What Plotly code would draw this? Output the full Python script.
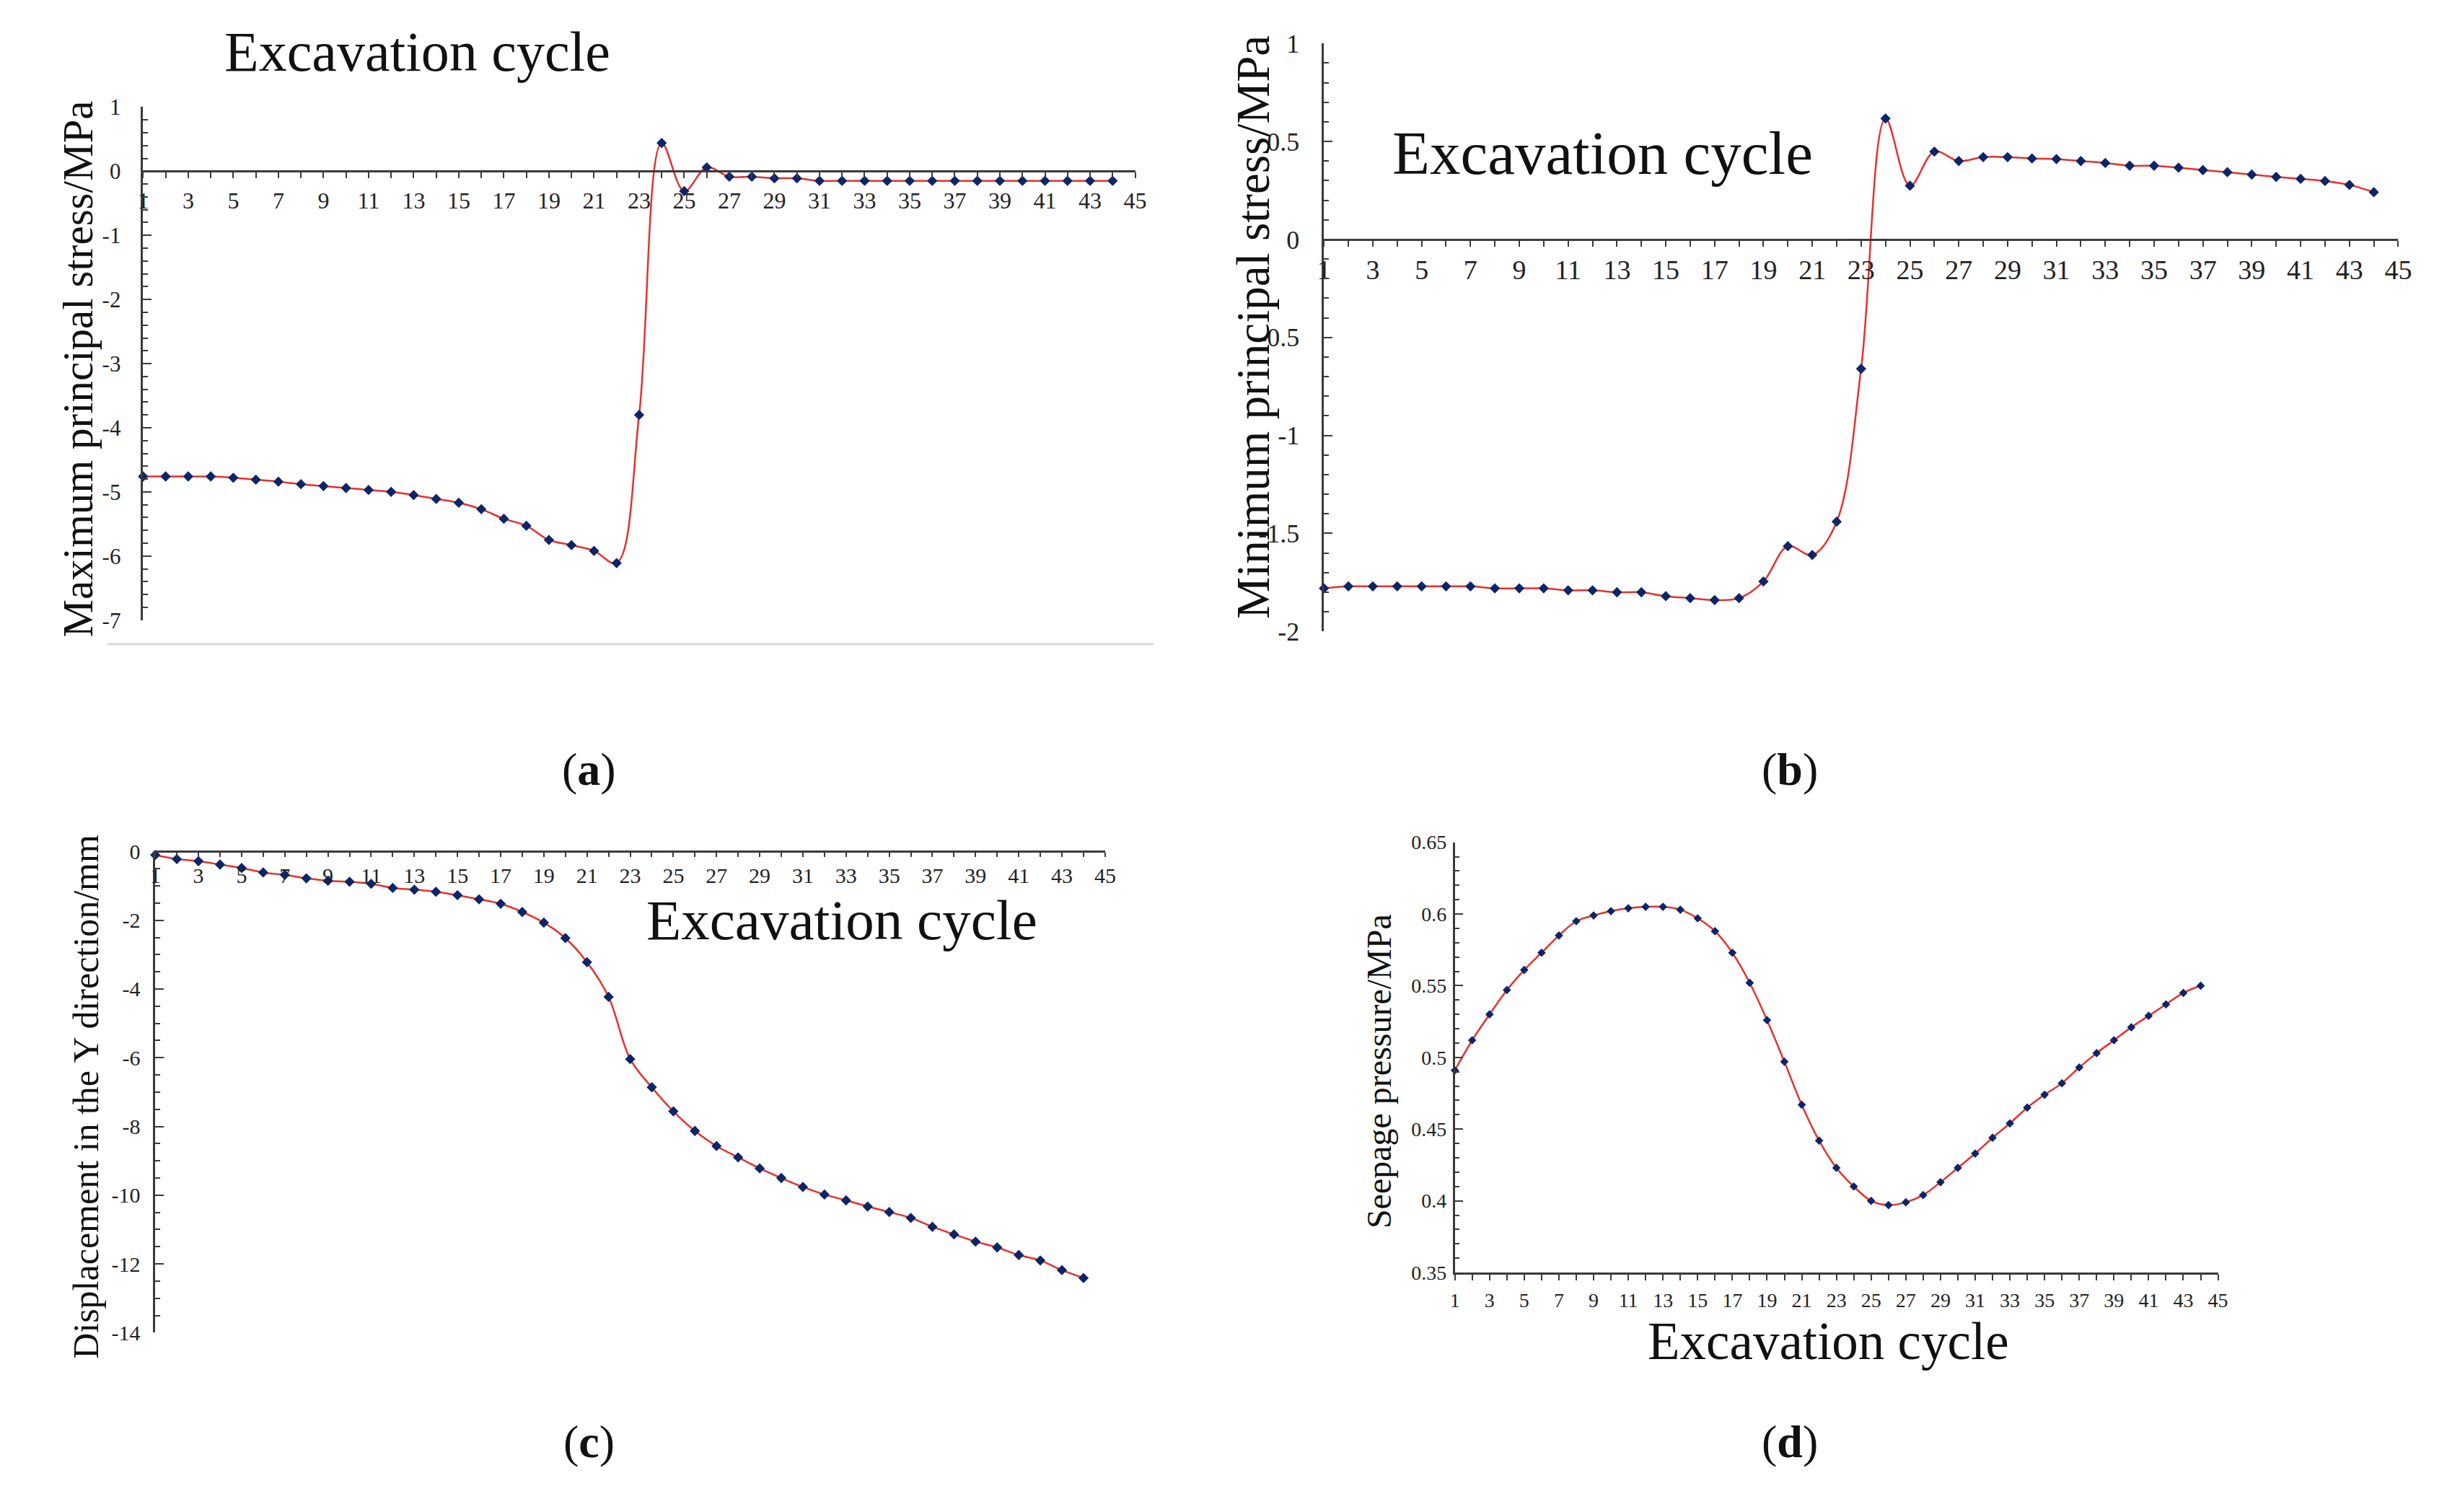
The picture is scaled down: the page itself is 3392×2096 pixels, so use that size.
import plotly.graph_objects as go

W, H = 3392, 2096

# ---------------- data ----------------
cycles = list(range(1, 45))

max_principal_stress = [
    -4.76, -4.76, -4.76, -4.76, -4.78, -4.81, -4.84, -4.88, -4.91, -4.94,
    -4.97, -5.00, -5.05, -5.11, -5.17, -5.27, -5.42, -5.53, -5.75, -5.83,
    -5.92, -6.11, -3.80, 0.44, -0.31, 0.06, -0.085, -0.085, -0.11, -0.11,
    -0.15, -0.15, -0.15, -0.15, -0.15, -0.15, -0.15, -0.15, -0.15, -0.15,
    -0.15, -0.15, -0.15, -0.15]

min_principal_stress = [
    -1.78, -1.77, -1.77, -1.77, -1.77, -1.77, -1.77, -1.78, -1.78, -1.78,
    -1.79, -1.79, -1.80, -1.80, -1.82, -1.83, -1.84, -1.83, -1.745, -1.565,
    -1.61, -1.44, -0.66, 0.617, 0.274, 0.448, 0.40, 0.42, 0.42, 0.413,
    0.41, 0.40, 0.39, 0.376, 0.376, 0.366, 0.354, 0.343, 0.331, 0.319,
    0.309, 0.298, 0.278, 0.241]

displacement_y = [
    -0.10, -0.22, -0.28, -0.38, -0.48, -0.61, -0.68, -0.78, -0.85, -0.88,
    -0.94, -1.06, -1.11, -1.17, -1.27, -1.39, -1.52, -1.76, -2.07, -2.52,
    -3.22, -4.23, -6.04, -6.86, -7.56, -8.13, -8.57, -8.90, -9.22, -9.50,
    -9.76, -9.98, -10.15, -10.33, -10.49, -10.66, -10.92, -11.14, -11.35, -11.52,
    -11.74, -11.90, -12.18, -12.41]

seepage_pressure = [
    0.491, 0.512, 0.530, 0.547, 0.561, 0.573, 0.585, 0.595, 0.599, 0.602,
    0.604, 0.605, 0.605, 0.603, 0.597, 0.588, 0.573, 0.552, 0.526, 0.497,
    0.467, 0.442, 0.423, 0.410, 0.400, 0.397, 0.399, 0.404, 0.413, 0.423,
    0.433, 0.444, 0.454, 0.465, 0.474, 0.482, 0.493, 0.503, 0.512, 0.521,
    0.529, 0.537, 0.545, 0.550]

x_tick_vals = list(range(1, 46))
x_tick_text = [str(v) if v % 2 == 1 else "" for v in x_tick_vals]

a_y_ticks = [1, 0, -1, -2, -3, -4, -5, -6, -7]
a_y_text = ["1", "0", "-1", "-2", "-3", "-4", "-5", "-6", "-7"]
b_y_ticks = [1, 0.5, 0, -0.5, -1, -1.5, -2]
b_y_text = ["1", "0.5", "0", "-0.5", "-1", "-1.5", "-2"]
c_y_ticks = [0, -2, -4, -6, -8, -10, -12, -14]
c_y_text = ["0", "-2", "-4", "-6", "-8", "-10", "-12", "-14"]
d_y_ticks = [0.65, 0.6, 0.55, 0.5, 0.45, 0.4, 0.35]
d_y_text = ["0.65", "0.6", "0.55", "0.5", "0.45", "0.4", "0.35"]

title_text = "Excavation cycle"
a_ytitle = "Maximum principal stress/MPa"
b_ytitle = "Minimum principal stress/MPa"
c_ytitle = "Displacement in the Y direction/mm"
d_ytitle = "Seepage pressure/MPa"

# ---------------- style ----------------
FONT = "Liberation Serif"
LINE_RED = "#E8302C"
MARK = "#0C2568"
AXC = "#3a3a3a"

fig = go.Figure()

# panel geometry in pixels: left, right, top, bottom
panels = {
    "a": dict(l=190, r=1577, t=132, b=857, yr=[-7, 1], n=""),
    "b": dict(l=1841, r=3343, t=42, b=873, yr=[-2, 1], n="2"),
    "c": dict(l=207, r=1535, t=1184, b=1864, yr=[-14, 0], n="3"),
    "d": dict(l=2024, r=3091, t=1171, b=1779, yr=[0.35, 0.65], n="4"),
}
series = {"a": max_principal_stress, "b": min_principal_stress,
          "c": displacement_y, "d": seepage_pressure}
# (tickvals, ticktext, minor dtick, font size, label standoff)
yticks = {"a": (a_y_ticks, a_y_text, 0.2, 31, 22),
          "b": (b_y_ticks, b_y_text, 0.1, 36, 24),
          "c": (c_y_ticks, c_y_text, 0.5, 30, 12),
          "d": (d_y_ticks, d_y_text, 0.01, 28, 3)}
# (font size, standoff, ticklen)
xfont = {"a": (32, 3, 8), "b": (38, 0, 8), "c": (30, 0, 6), "d": (28, 4, 8)}
msize = {"a": 11, "b": 11, "c": 11, "d": 9}

layout = {}
for key, p in panels.items():
    n = p["n"]
    xdom = [p["l"] / W, p["r"] / W]
    ydom = [1 - p["b"] / H, 1 - p["t"] / H]
    y0, y1 = p["yr"]
    if key in ("a", "b"):
        pos = ydom[0] + (0 - y0) / (y1 - y0) * (ydom[1] - ydom[0])
        xanchor = "free"
    elif key == "c":
        pos = ydom[1]
        xanchor = "free"
    else:
        pos = ydom[0]
        xanchor = "y" + n
    xf, xst, xtl = xfont[key]
    xa = dict(domain=xdom, range=[1, 45], showgrid=False, zeroline=False,
              showline=True, linecolor=AXC, linewidth=2.5,
              ticks="outside", ticklen=xtl, tickwidth=2, tickcolor=AXC,
              tickmode="array", tickvals=x_tick_vals, ticktext=x_tick_text,
              tickfont=dict(family=FONT, size=xf, color="#222"),
              ticklabelstandoff=xst, fixedrange=True)
    if xanchor == "free":
        xa.update(anchor="free", position=pos)
    else:
        xa.update(anchor=xanchor)
    tv, tt, mdt, yf, yst = yticks[key]
    ya = dict(domain=ydom, range=[y0, y1], anchor="x" + n, showgrid=False,
              zeroline=False, showline=True, linecolor=AXC, linewidth=2.5,
              ticks="inside", ticklen=12, tickwidth=2, tickcolor=AXC,
              tickmode="array", tickvals=tv, ticktext=tt,
              tickfont=dict(family=FONT, size=yf, color="#222"),
              ticklabelstandoff=yst,
              minor=dict(ticks="inside", ticklen=7, tickwidth=1.5,
                         tickcolor=AXC, tickmode="linear", tick0=0, dtick=mdt),
              fixedrange=True)
    layout["xaxis" + n] = xa
    layout["yaxis" + n] = ya
    fig.add_trace(go.Scatter(
        x=cycles, y=series[key], xaxis="x" + n, yaxis="y" + n,
        mode="lines+markers", cliponaxis=False,
        line=dict(color=LINE_RED, width=2.5, shape="spline", smoothing=1),
        marker=dict(symbol="diamond", size=msize[key], color=MARK),
        showlegend=False, hoverinfo="x+y"))

annotations = []

def ann(text, cx, cy, size, angle=0):
    annotations.append(dict(
        text=text, x=cx / W, y=1 - cy / H, xref="paper", yref="paper",
        xanchor="center", yanchor="middle", showarrow=False,
        textangle=angle, font=dict(family=FONT, size=size, color="#111")))

# titles ("Excavation cycle")
ann(title_text, 573, 54, 78)
ann(title_text, 2231, 197, 85)
ann(title_text, 1167, 1281, 79)
ann(title_text, 2546, 1876, 73)
# y axis titles
ann(a_ytitle, 99, 502, 59, -90)
ann(b_ytitle, 1741, 443, 65, -90)
ann(c_ytitle, 110, 1531, 50, -90)
ann(d_ytitle, 1918, 1495, 48, -90)
# panel labels
ann("(<b>a</b>)", 813, 1068, 64)
ann("(<b>b</b>)", 2492, 1068, 64)
ann("(<b>c</b>)", 813, 2018, 64)
ann("(<b>d</b>)", 2492, 2018, 64)

shapes = [dict(type="line", xref="paper", yref="paper",
               x0=140 / W, x1=1603 / W, y0=1 - 891 / H, y1=1 - 891 / H,
               line=dict(color="#d9d9d9", width=3))]

fig.update_layout(
    width=W, height=H, margin=dict(l=0, r=0, t=0, b=0),
    paper_bgcolor="white", plot_bgcolor="white",
    annotations=annotations, shapes=shapes,
    font=dict(family=FONT, color="#222"),
    **layout)

fig.write_html("out.html", config={"displayModeBar": False})
